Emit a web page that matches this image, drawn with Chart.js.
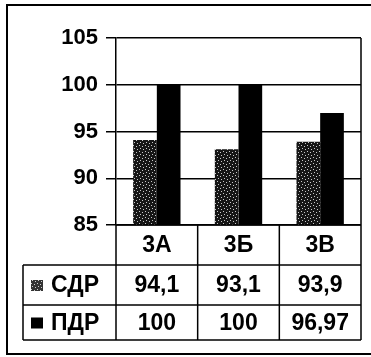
<!DOCTYPE html>
<html>
<head>
<meta charset="utf-8">
<script src="https://cdn.jsdelivr.net/npm/chart.js@4"></script>
<style>
    body { margin: 0; background: #fff; }
    canvas { display: block; }
</style>
</head>
<body>
<canvas id="barChart" width="371" height="357"></canvas>
<script>
const classes = ['3А', '3Б', '3В'];
const seriesNames = ['СДР', 'ПДР'];
const sdrValues = [94.1, 93.1, 93.9];
const pdrValues = [100, 100, 96.97];
const yTicks = [85, 90, 95, 100, 105];

const FONT = 'bold 23px "Liberation Sans"';

// dotted dark fill, like the scanned hatch of the first series
function makeDots(bg, dot) {
    const c = document.createElement('canvas');
    c.width = 6; c.height = 6;
    const g = c.getContext('2d');
    g.fillStyle = bg;
    g.fillRect(0, 0, 6, 6);
    g.fillStyle = dot;
    g.fillRect(1, 1, 1, 1);
    g.fillRect(4, 2, 1, 1);
    g.fillRect(2, 4, 1, 1);
    g.fillRect(5, 5, 1, 1);
    return g.createPattern(c, 'repeat');
}
const sdrFill = makeDots('#161616', '#c8c8c8');
const sdrMarker = makeDots('#333', '#ccc');

const fmt = v => String(v).replace('.', ',');

// data table + frames under the plot
const tablePlugin = {
    id: 'dataTable',
    afterDraw(chart) {
        const { ctx, chartArea: a, scales: { x } } = chart;
        const n = classes.length;
        const edges = [a.left];
        for (let i = 1; i < n; i++) {
            edges.push((x.getPixelForValue(i - 1) + x.getPixelForValue(i)) / 2);
        }
        edges.push(a.right);
        const rows = [a.bottom, a.bottom + 40, a.bottom + 80, a.bottom + 115];
        const tableLeft = 23;

        ctx.save();
        ctx.strokeStyle = '#000';
        ctx.lineWidth = 1.5;
        ctx.beginPath();
        // right edge of the plot box
        ctx.moveTo(a.right, a.top);
        ctx.lineTo(a.right, a.bottom);
        // horizontal rules
        ctx.moveTo(a.left, rows[0]);
        ctx.lineTo(a.right, rows[0]);
        for (let r = 1; r < rows.length; r++) {
            ctx.moveTo(tableLeft, rows[r]);
            ctx.lineTo(a.right, rows[r]);
        }
        // verticals
        ctx.moveTo(tableLeft, rows[1]);
        ctx.lineTo(tableLeft, rows[3]);
        edges.forEach(e => {
            ctx.moveTo(e, rows[0]);
            ctx.lineTo(e, rows[3]);
        });
        ctx.stroke();

        // outer frame
        ctx.lineWidth = 2;
        ctx.beginPath();
        ctx.moveTo(373, 5);
        ctx.lineTo(7, 5);
        ctx.lineTo(7, 354);
        ctx.lineTo(373, 354);
        ctx.stroke();

        ctx.fillStyle = '#000';
        ctx.font = FONT;
        ctx.textAlign = 'center';
        ctx.textBaseline = 'middle';
        const rowMid = r => (rows[r] + rows[r + 1]) / 2 + 1;
        classes.forEach((c, i) => {
            const cx = (edges[i] + edges[i + 1]) / 2;
            ctx.fillText(c, cx, rowMid(0));
            ctx.fillText(fmt(sdrValues[i]), cx, rowMid(1));
            ctx.fillText(fmt(pdrValues[i]), cx, rowMid(2));
        });

        // legend keys
        ctx.textAlign = 'left';
        ctx.fillStyle = sdrMarker;
        ctx.fillRect(31, rowMid(1) - 6, 12, 11);
        ctx.fillStyle = '#000';
        ctx.fillRect(31, rowMid(2) - 6, 12, 11);
        ctx.fillText(seriesNames[0], 51, rowMid(1));
        ctx.fillText(seriesNames[1], 51, rowMid(2));
        ctx.restore();
    }
};

new Chart(document.getElementById('barChart'), {
    type: 'bar',
    data: {
        labels: classes,
        datasets: [
            {
                label: seriesNames[0],
                data: sdrValues,
                backgroundColor: sdrFill,
                borderWidth: 0
            },
            {
                label: seriesNames[1],
                data: pdrValues,
                backgroundColor: '#000',
                borderWidth: 0
            }
        ]
    },
    options: {
        responsive: false,
        animation: false,
        devicePixelRatio: 1,
        layout: {
            padding: { top: 38, right: 10, bottom: 132, left: 0 }
        },
        datasets: {
            bar: { barPercentage: 1, categoryPercentage: 0.58 }
        },
        plugins: {
            legend: { display: false },
            tooltip: { enabled: false }
        },
        scales: {
            x: { display: false },
            y: {
                min: yTicks[0],
                max: yTicks[yTicks.length - 1],
                afterBuildTicks: s => { s.ticks = yTicks.map(v => ({ value: v })); },
                afterFit: s => { s.width = 116; },
                border: { display: true, color: '#000', width: 1.5 },
                grid: { color: '#000', lineWidth: 1.5, tickLength: 10, drawTicks: true },
                ticks: { color: '#000', padding: 8, font: { family: 'Liberation Sans', size: 22, weight: 'bold' } }
            }
        }
    },
    plugins: [tablePlugin]
});
</script>
</body>
</html>
